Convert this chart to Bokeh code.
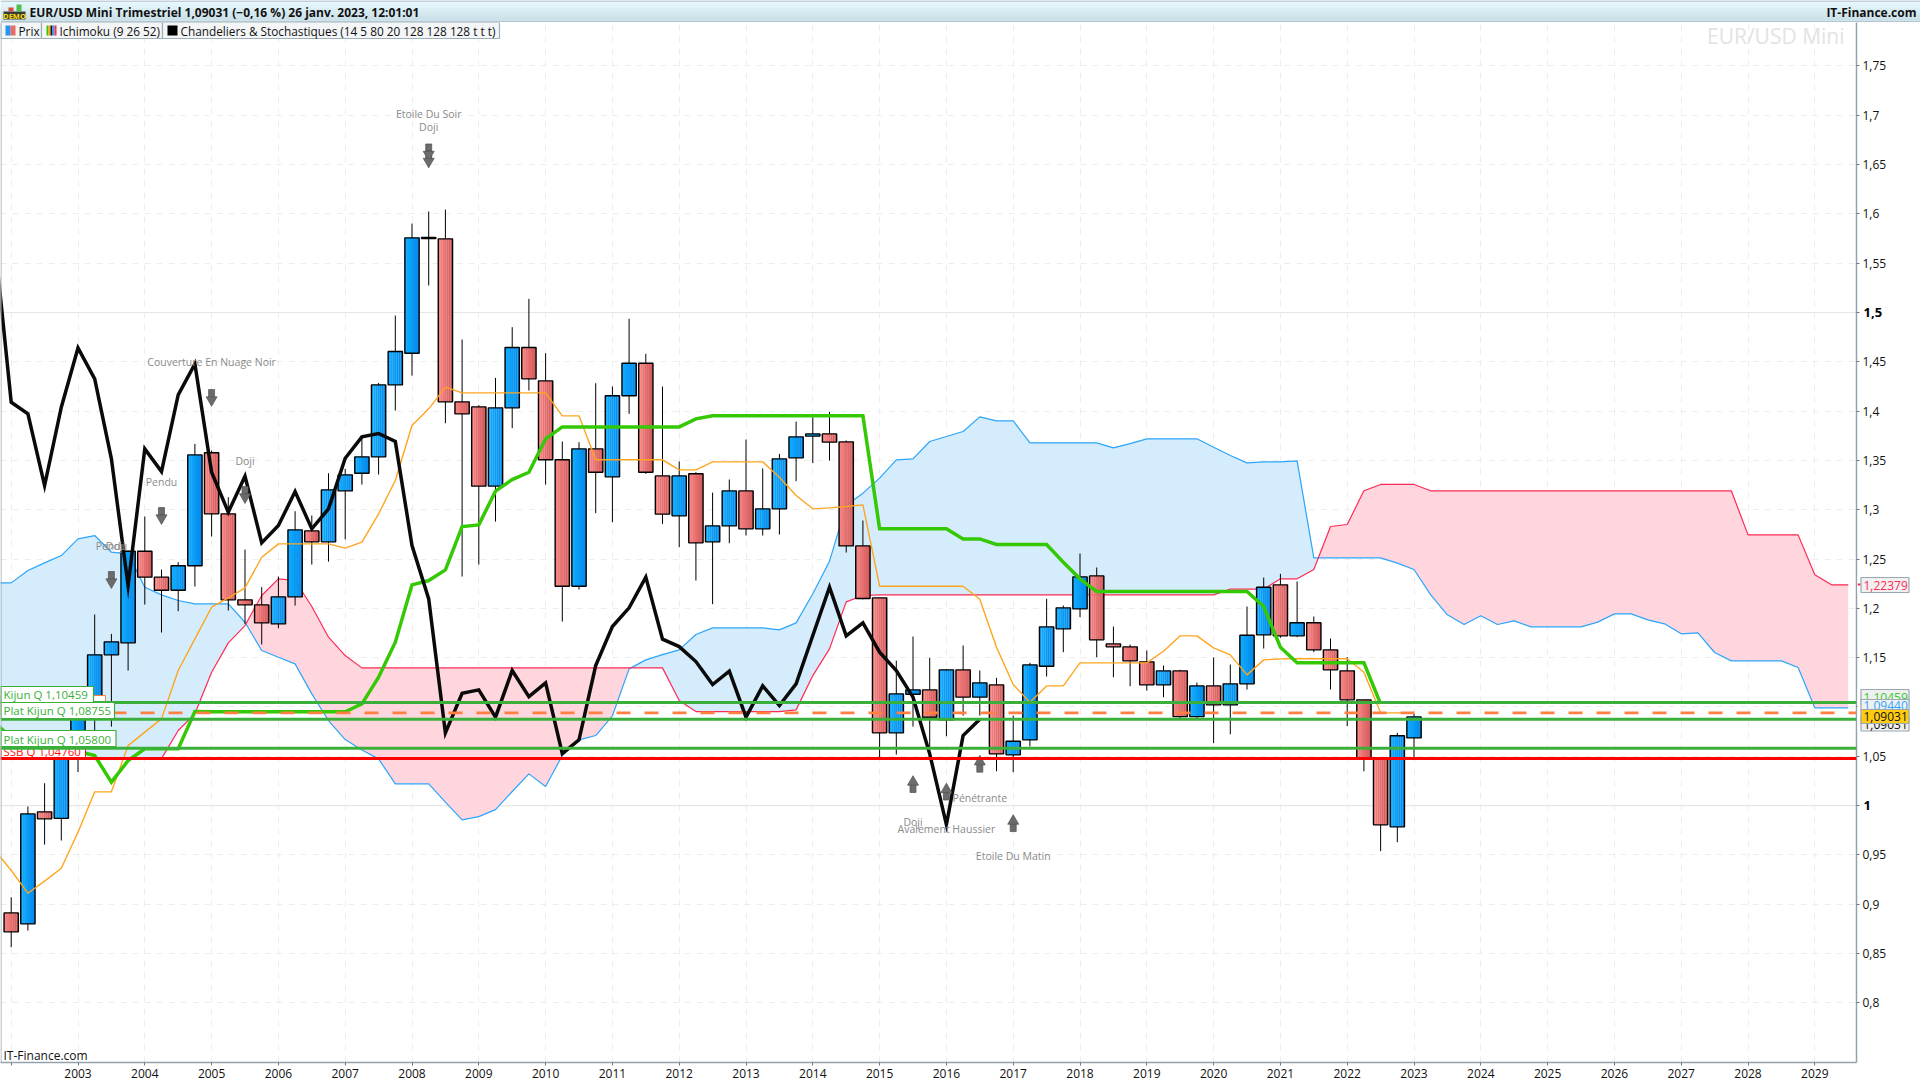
from bokeh.plotting import figure
from bokeh.embed import file_html
from bokeh.resources import INLINE
from bokeh.models import BoxAnnotation, Label, Span, Range1d, FixedTicker
from bokeh.core.properties import value
import numpy as np

# ---- data -----------------------------------------------------------------
opens = [.8911,.8800,.9936,.987,1.049,1.09,1.1528,1.165,1.2579,1.2316,1.2184,1.2431,1.3577,1.2958,1.2086,1.2035,1.1842,1.2116,1.2785,1.2674,1.3191,1.337,1.3536,1.4266,1.4587,1.5750,1.5747,1.4094,1.4043,1.3239,1.4033,1.4645,1.4307,1.3506,1.2224,1.3617,1.3333,1.4155,1.4486,1.3343,1.2938,1.3364,1.2674,1.2836,1.3191,1.2806,1.3009,1.3526,1.3746,1.3769,1.3688,1.2633,1.2106,1.0737,1.1129,1.1173,1.087,1.1376,1.1099,1.1224,1.0514,1.0666,1.1413,1.1792,1.1994,1.2329,1.1639,1.1609,1.1457,1.1224,1.1366,1.0902,1.1213,1.1021,1.1234,1.1731,1.2238,1.1721,1.1853,1.1579,1.1366,1.1072,1.0481,.9784,1.0686]
highs = [.9070,.9990,1.0226,1.052,1.10,1.1937,1.1741,1.2585,1.2931,1.2393,1.2468,1.3668,1.36,1.3127,1.2596,1.2214,1.2322,1.2985,1.2941,1.337,1.3414,1.3735,1.4286,1.4969,1.5902,1.6024,1.6044,1.4726,1.406,1.4337,1.4851,1.5138,1.4587,1.3692,1.3685,1.4283,1.4249,1.4936,1.4581,1.4249,1.3489,1.338,1.3174,1.3306,1.3712,1.3418,1.3566,1.3894,1.3938,1.3992,1.3702,1.2890,1.2106,1.147,1.1714,1.1497,1.1385,1.1623,1.1369,1.1295,1.0913,1.1447,1.2096,1.2028,1.2556,1.2414,1.1815,1.1633,1.1572,1.1420,1.1376,1.1247,1.1501,1.143,1.2018,1.2312,1.235,1.2272,1.1917,1.1694,1.1505,1.1072,1.0481,1.0737,1.0929]
lows = [.8563,.8732,.9604,.9645,1.034,1.076,1.08,1.1369,1.2038,1.1754,1.1971,1.2221,1.2728,1.1978,1.1842,1.1633,1.1798,1.2028,1.2444,1.2474,1.2698,1.3255,1.3357,1.4006,1.436,1.5274,1.3877,1.2322,1.2444,1.288,1.3827,1.4209,1.3255,1.1866,1.219,1.2965,1.2873,1.3972,1.3364,1.2856,1.262,1.2282,1.2042,1.2660,1.2738,1.2738,1.2748,1.3289,1.3472,1.3499,1.2566,1.2090,1.0490,1.0517,1.080,1.0575,1.0703,1.0912,1.0913,1.0348,1.0338,1.0598,1.1308,1.1555,1.1910,1.1504,1.1301,1.121,1.1166,1.1099,1.0889,1.0879,1.0632,1.0723,1.1176,1.1592,1.1701,1.1707,1.1555,1.1177,1.0805,1.0348,.9537,.9628,1.049]
closes = [.8719,.9915,.9865,1.049,1.09,1.1528,1.166,1.2579,1.2316,1.2184,1.2431,1.3556,1.2958,1.2086,1.2035,1.1852,1.2116,1.2796,1.2674,1.3201,1.3353,1.3536,1.4266,1.4604,1.5757,1.5760,1.4094,1.3972,1.3239,1.4033,1.4645,1.4327,1.3506,1.2224,1.3617,1.338,1.4155,1.4486,1.338,1.2955,1.3343,1.2664,1.2836,1.3191,1.2806,1.3009,1.3516,1.3739,1.3769,1.3685,1.2633,1.2099,1.0737,1.1132,1.1173,1.0895,1.1376,1.1099,1.1244,1.0524,1.0652,1.1426,1.1812,1.2005,1.2319,1.168,1.1609,1.1467,1.1224,1.1366,1.0902,1.1213,1.1021,1.1234,1.1727,1.2214,1.1721,1.1853,1.1579,1.1376,1.1072,1.0481,.9804,1.0707,1.0899]

black_line = [1.575,1.4090,1.3972,1.3245,1.4040,1.4641,1.4327,1.3516,1.2231,1.3617,1.3387,1.4165,1.4479,1.3380,1.2975,1.3340,1.2664,1.2840,1.3184,1.2806,1.3009,1.3522,1.3739,1.3773,1.3692,1.2637,1.2096,1.0737,1.1139,1.1173,1.0896,1.1369,1.1105,1.1244,1.0527,1.0666,1.1420,1.1815,1.2005,1.2316,1.1687,1.1612,1.1460,1.1227,1.1362,1.0896,1.1213,1.1014,1.1234,1.1724,1.2214,1.1721,1.1852,1.1555,1.1369,1.1099,1.0524,.9807,1.071,1.0875]
kijun = [1.084,1.0693,1.06,1.055,1.055,1.055,1.0507,1.0237,1.0456,1.0575,1.0575,1.0575,1.0953,1.0950,1.0950,1.0950,1.0950,1.0950,1.0950,1.0950,1.0950,1.0950,1.1031,1.1301,1.1656,1.2238,1.2282,1.2390,1.2829,1.2846,1.3188,1.3306,1.3380,1.3719,1.3840,1.3840,1.3840,1.3840,1.3840,1.3840,1.3840,1.3840,1.3921,1.3952,1.3952,1.3952,1.3952,1.3952,1.3952,1.3952,1.3952,1.3952,1.3952,1.2806,1.2806,1.2806,1.2806,1.2806,1.2704,1.2704,1.2647,1.2647,1.2647,1.2647,1.2468,1.2299,1.2170,1.2170,1.2170,1.2170,1.2170,1.2170,1.2170,1.2170,1.2170,1.2170,1.2018,1.1606,1.1447,1.1447,1.1447,1.1447,1.1447,1.1031]
tenkan = [.9550,.9341,.9111,.9233,.9364,.9729,1.0139,1.0139,1.0608,1.0744,1.0879,1.1369,1.1690,1.2011,1.2106,1.2207,1.2518,1.2654,1.2654,1.2654,1.2654,1.2610,1.2671,1.2958,1.3296,1.3854,1.4023,1.4243,1.4185,1.4185,1.4185,1.4185,1.4185,1.4185,1.3952,1.3952,1.3506,1.3506,1.3506,1.3506,1.3506,1.3404,1.3404,1.3485,1.3485,1.3485,1.3485,1.3330,1.3144,1.3009,1.3019,1.3032,1.3049,1.2224,1.2224,1.2224,1.2224,1.2224,1.2224,1.2092,1.1606,1.1227,1.1048,1.1213,1.1213,1.1447,1.1447,1.1447,1.1447,1.1447,1.1565,1.1721,1.1721,1.1599,1.1528,1.1325,1.1477,1.1487,1.1488,1.1488,1.1488,1.1488,1.1352,1.0940,1.0940,1.0940]
senkou_a = [1.2258,1.2258,1.2383,1.2461,1.2535,1.2704,1.2738,1.2569,1.2552,1.2214,1.2136,1.2079,1.2045,1.2045,1.2045,1.1859,1.1572,1.1504,1.1437,1.1132,1.0862,1.0669,1.0564,1.0473,1.0220,1.0220,1.0220,1.0034,.9855,.9888,.9959,1.0142,1.0321,1.0193,1.0507,1.0666,1.0710,1.0910,1.1386,1.1477,1.1531,1.1579,1.1734,1.1802,1.1802,1.1802,1.1802,1.1781,1.1852,1.2147,1.2478,1.3042,1.3168,1.3320,1.3506,1.3516,1.3692,1.3742,1.3793,1.3942,1.3901,1.3901,1.3678,1.3678,1.3678,1.3678,1.3678,1.3627,1.3671,1.3719,1.3719,1.3719,1.3719,1.3634,1.3550,1.3475,1.3485,1.3485,1.3496,1.2512,1.2512,1.2512,1.2512,1.2512,1.2458,1.2394,1.2137,1.1934,1.1836,1.1924,1.1836,1.1873,1.1812,1.1812,1.1812,1.1812,1.1860,1.1944,1.1944,1.1883,1.1843,1.1741,1.1751,1.1552,1.1467,1.1467,1.1467,1.1467,1.1400,1.0991,1.0991,1.0991]
senkou_b = [1.0476,1.0476,1.0476,1.0476,1.0476,1.0476,1.0476,1.0476,1.0476,1.0476,1.0476,1.0761,1.0930,1.1352,1.1650,1.1825,1.2130,1.2299,1.2282,1.2018,1.1707,1.1521,1.1396,1.1396,1.1396,1.1396,1.1396,1.1396,1.1396,1.1396,1.1396,1.1396,1.1396,1.1396,1.1396,1.1396,1.1396,1.1396,1.1396,1.1396,1.1396,1.1065,1.0953,1.0953,1.0953,1.0953,1.0953,1.0953,1.0970,1.1318,1.1589,1.2065,1.2130,1.2136,1.2136,1.2136,1.2136,1.2136,1.2136,1.2136,1.2136,1.2136,1.2136,1.2136,1.2136,1.2136,1.2136,1.2136,1.2136,1.2136,1.2136,1.2136,1.2136,1.2136,1.2194,1.2194,1.2194,1.2299,1.2299,1.2394,1.2830,1.2850,1.3192,1.3256,1.3256,1.3256,1.3192,1.3192,1.3192,1.3192,1.3192,1.3192,1.3192,1.3192,1.3192,1.3192,1.3192,1.3192,1.3192,1.3192,1.3192,1.3192,1.3192,1.3192,1.3192,1.2745,1.2745,1.2745,1.2745,1.2340,1.2238,1.2238]

levels = [1.10459, 1.08755, 1.05800]
level_ssb = 1.04760
level_tenkan = 1.0940

year_ticks = list(range(2002, 2030))
year_labels = {y: str(y) for y in year_ticks}
year_labels[2002] = ""
price_ticks = [0.8,0.85,0.9,0.95,1,1.05,1.1,1.15,1.2,1.25,1.3,1.35,1.4,1.45,1.5,1.55,1.6,1.65,1.7,1.75]
price_labels = ["0,8","0,85","0,9","0,95","","1,05","1,1","1,15","1,2","1,25","1,3","1,35","1,4","1,45","","1,55","1,6","1,65","1,7","1,75"]

note_text = ["Etoile Du Soir","Doji","Couverture En Nuage Noir","Pendu","Doji","Pendu","Doji","Doji","Avalement Haussier","Pénétrante","Etoile Du Matin"]
note_x = [2008.25,2008.25,2005.0,2004.25,2005.5,2003.5,2003.56,2015.5,2016.0,2016.5,2017.0]
note_y = [1.7018,1.6886,1.4493,1.3286,1.3499,1.2637,1.2637,.9838,.9767,1.0081,.9493]
arrow_down_x = [2008.25,2008.25,2005.0,2004.25,2005.5,2003.5]
arrow_down_y = [1.6638,1.6567,1.4148,1.2951,1.3164,1.2302]
arrow_up_x = [2015.5,2016.0,2016.5,2017.0]
arrow_up_y = [1.0203,1.0127,1.0409,.9807]

# ---- main figure ------------------------------------------------------------
FONT = "Open Sans"
W, H = 1920, 1080
p = figure(width=W, height=H, output_backend="svg", toolbar_location=None,
           x_range=Range1d(2001.8398, 2029.624), y_range=Range1d(0.7394, 1.7941),
           y_axis_location="right", min_border_left=0, min_border_right=64,
           min_border_top=22, min_border_bottom=18, background_fill_color="white",
           border_fill_color="white", outline_line_color=None)

p.xaxis.ticker = FixedTicker(ticks=year_ticks)
p.xaxis.major_label_overrides = year_labels
p.yaxis.ticker = FixedTicker(ticks=price_ticks)
p.yaxis.major_label_overrides = dict(zip(price_ticks, price_labels))
for ax in (p.xaxis[0], p.yaxis[0]):
    ax.axis_line_color = "#93A3AD"
    ax.axis_line_width = 1.5
    ax.major_tick_line_color = "#6E7A82"
    ax.major_tick_in = 0
    ax.major_tick_out = 3
    ax.minor_tick_line_color = None
    ax.major_label_text_font = FONT
    ax.major_label_text_font_size = "12px"
    ax.major_label_text_color = "#111111"
    ax.major_label_standoff = 3

p.xgrid.ticker = FixedTicker(ticks=year_ticks)
p.ygrid.ticker = FixedTicker(ticks=price_ticks)
for g in (p.xgrid[0], p.ygrid[0]):
    g.grid_line_color = "#EDEDED"
    g.grid_line_dash = "6 6"
    g.grid_line_width = 1
for lv in (1, 1.5):
    p.add_layout(Span(location=lv, dimension="width", line_color="#E6E6E6", line_width=1.2, level="underlay"))

# ---- Ichimoku cloud --------------------------------------------------------
def qx(first, n):
    return 2002 + (first + np.arange(n)) * 0.25

sa = np.array(senkou_a); sb = np.array(senkou_b)
xc = qx(-1, len(sa))
X, A, B = [], [], []
for i in range(len(xc)):
    X.append(xc[i]); A.append(sa[i]); B.append(sb[i])
    if i + 1 < len(xc):
        d0, d1 = sa[i] - sb[i], sa[i + 1] - sb[i + 1]
        if d0 * d1 < 0:
            t = d0 / (d0 - d1)
            X.append(xc[i] + t * 0.25)
            v = sa[i] + t * (sa[i + 1] - sa[i])
            A.append(v); B.append(v)
X, A, B = map(np.array, (X, A, B))
low = np.minimum(A, B)
p.varea(x=X, y1=low, y2=A, fill_color="#D4ECFB")
p.varea(x=X, y1=low, y2=B, fill_color="#FFD5DE")
p.line(xc, sa, line_color="#2BA5FB", line_width=1.2)
p.line(xc, sb, line_color="#FF2A55", line_width=1.2)

# ---- candles ----------------------------------------------------------------
o, h, l, c = map(np.array, (opens, highs, lows, closes))
xq = qx(0, len(o))
up = c >= o
p.segment(xq, h, xq, l, line_color="black", line_width=1)
top = np.maximum(o, c); bot = np.minimum(o, c)
BW = 0.214
N = 7
def mix(a, b, t):
    return "#%02X%02X%02X" % tuple(int(round(a[k] + (b[k] - a[k]) * t)) for k in range(3))
for k in range(N):
    t = k / (N - 1)
    off = (k + 0.5) / N * BW - BW / 2
    p.vbar(x=xq[up] + off, width=BW / N + 0.002, top=top[up], bottom=bot[up], line_color=None,
           fill_color=mix((16, 172, 255), (4, 138, 235), t))
    p.vbar(x=xq[~up] + off, width=BW / N + 0.002, top=top[~up], bottom=bot[~up], line_color=None,
           fill_color=mix((247, 130, 130), (212, 92, 92), t))
p.vbar(x=xq, width=BW, top=top, bottom=bot, fill_color=None, line_color="black", line_width=1.4)

# ---- indicator lines ---------------------------------------------------------
p.line(qx(-1, len(tenkan)), tenkan, line_color="#FFA51F", line_width=1.4)
p.line(qx(-1, len(kijun)), kijun, line_color="#35C805", line_width=3.5, line_join="miter")
p.line(qx(-1, len(black_line)), black_line, line_color="#0A0A0A", line_width=3.5, line_join="miter")

# ---- pattern notes -----------------------------------------------------------
PX = 1 / 986
p.text(note_x, note_y, text=note_text, text_font=value(FONT), text_font_size="10.5px",
       text_color="#8A8A8A", text_align="center", text_baseline="middle")
ax_d = np.array(arrow_down_x); ay_d = np.array(arrow_down_y)
ax_u = np.array(arrow_up_x); ay_u = np.array(arrow_up_y)
AR = dict(fill_color="#6C6C6C", line_color="#505050", line_width=0.7)
p.rect(ax_d, ay_d + 2.5 * PX, width=6, height=9, width_units="screen", height_units="screen", **AR)
p.scatter(ax_d, ay_d - 3.5 * PX, marker="inverted_triangle", size=11, **AR)
p.rect(ax_u, ay_u - 2.5 * PX, width=6, height=9, width_units="screen", height_units="screen", **AR)
p.scatter(ax_u, ay_u + 3.5 * PX, marker="triangle", size=11, **AR)

# ---- overlay panels: annotations are clipped to a frame, so the strips outside
# the main frame get small figures of their own, placed at page pixels --------
def panel(x0, y0, w, h):
    f = figure(width=w, height=h, output_backend="svg", toolbar_location=None,
               x_range=Range1d(0, w), y_range=Range1d(0, h), x_axis_type=None, y_axis_type=None,
               min_border=0, background_fill_color="white", border_fill_color="white",
               outline_line_color=None,
               styles={"position": "absolute", "left": f"{x0}px", "top": f"{y0}px", "z-index": "10"})
    f.grid.visible = False
    return f

def box(x0, y0, x1, y1, fill, line=None, lw=1, fig=None, ox=0, oy=0):
    (fig or p).add_layout(BoxAnnotation(left=x0 - ox, right=x1 - ox, top=y0 - oy, bottom=y1 - oy,
                               left_units="canvas", right_units="canvas",
                               top_units="canvas", bottom_units="canvas", fill_color=fill, fill_alpha=1,
                               line_color=line, line_alpha=1 if line else 0, line_width=lw, level="annotation"))

def lab(text, x, y, color="#111111", size=11.5, style="normal", align="left", fig=None, ox=0, oy=0):
    (fig or p).add_layout(Label(x=x - ox, y=y - oy, x_units="canvas", y_units="canvas", text=text, text_color=color,
                       text_font=FONT, text_font_size=f"{size}px", text_font_style=style,
                       text_align=align, text_baseline="middle", level="annotation"))

GREEN = "#3AB03A"
# labels hidden behind the others
box(0.5, 695, 105, 711, "white", "#FF8040")
box(0.5, 746, 85, 758, "white", "#FF1010")
lab("SSB Q 1,04760", 3, 750.7, "#FF1010", 11.5)

def hline(v, color, lw=3, dash=None):
    kw = dict(line_dash=dash) if dash else {}
    p.add_layout(Span(location=v, dimension="width", line_color=color, line_width=lw, level="annotation", **kw))

hline(level_tenkan, "#FF8040", 2.6, "14 14")
hline(level_ssb, "#FF0000", 3)
for lv in levels:
    hline(lv, GREEN, 3)

# left level labels
box(0.5, 686, 93, 702, "white", GREEN, 1.2)
lab("Kijun Q 1,10459", 3, 694, GREEN)
box(0.5, 702, 114, 718, "white", GREEN, 1.2)
lab("Plat Kijun Q 1,08755", 3, 710, GREEN)
box(0.5, 730, 115.5, 746, "white", GREEN, 1.2)
lab("Plat Kijun Q 1,05800", 3, 739, GREEN)
lab("IT-Finance.com", 3, 1055, "#111111", 12)
box(0, 22, 1, 1062, "#9AAAB5")

# watermark
lab("EUR/USD Mini", 1844, 35, "#E3E3E3", 21, align="right")

# legend strip
box(0.5, 22, 41, 38, "#F3F5F6", "#9DB0BA", 1.2)
box(41, 22, 162, 38, "#F3F5F6", "#9DB0BA", 1.2)
box(162, 22, 499, 38, "#F3F5F6", "#9DB0BA", 1.2)
box(5, 25, 10, 35, "#2196F3"); box(10, 25, 15, 35, "#E86A6A")
for j, col in enumerate(["#35C805", "#FFA51F", "#111111", "#2BA5FB", "#FF2A55"]):
    box(46 + j * 2, 25, 48 + j * 2, 35, col)
box(167, 25, 177, 35, "#000000")
lab("Prix", 18, 30, "#111111", 11.8)
lab("Ichimoku (9 26 52)", 59, 30, "#111111", 11.8)
lab("Chandeliers & Stochastiques (14 5 80 20 128 128 128 t t t)", 180, 30, "#111111", 11.8)

# header panel
head = panel(0, 0, W, 22)
hk = dict(fig=head)
steps = 11
for k in range(steps):
    t = k / (steps - 1)
    box(0, 1 + k * 1.9, W, 1 + (k + 1) * 1.9 + 0.3, mix((229, 247, 252), (200, 221, 230), t), **hk)
box(0, 0, W, 1, "#8EA5B1", **hk)
box(0, 21, W, 22, "#9AAFBA", **hk)
box(3, 11, 25, 19, "#3A3A3A", **hk)
box(8, 7, 13, 11, "#D84A3A", **hk)
box(16, 4, 21, 11, "#4FC04F", **hk)
lab("DEMO", 14, 15.5, "#FFE000", 7.5, "bold", "center", **hk)
lab("EUR/USD Mini Trimestriel 1,09031 (−0,16 %) 26 janv. 2023, 12:01:01", 29, 12, "#111111", 12, "bold", **hk)
lab("IT-Finance.com", 1916, 12, "#111111", 12, "bold", "right", **hk)

# bottom border
foot = panel(0, 1078, W, 2)
box(0, 0, W, 2, "#93A3AD", fig=foot)

# right price labels
r1 = panel(1857, 575, 54, 19)
rk = dict(fig=r1, ox=1857, oy=575)
box(1857, 583, 1860, 585, "#FF2A55", **rk)
box(1860.5, 577, 1908.5, 592, "#F0F0F0", "#9AA8B2", 1.2, **rk)
lab("1,22379", 1863, 584.5, "#FF2A55", 12, **rk)

r2 = panel(1857, 688, 54, 44)
rk = dict(fig=r2, ox=1857, oy=688)
box(1860.5, 689, 1908.5, 704, "#F0F0F0", "#9AA8B2", 1.2, **rk)
lab("1,10459", 1863, 697, "#33CC33", 12, **rk)
box(1860.5, 699, 1908.5, 710, "#F0F0F0", "#9AA8B2", 1.2, **rk)
lab("1,09440", 1863, 705, "#2BA5FB", 12, **rk)
box(1860.5, 715, 1908.5, 730.5, "#F0F0F0", "#9AA8B2", 1.2, **rk)
lab("1,09031", 1863, 724, "#111111", 12, **rk)
box(1860.5, 709, 1908.5, 723, "#FFCC11", "#9AA8B2", 1.2, **rk)
lab("1,09031", 1863, 716, "#111111", 12, **rk)

# the round prices 1,5 and 1 are set darker and larger in the reference
m1 = panel(1861, 304, 24, 16)
lab("1,5", 1863, 312, "#000000", 13, "bold", fig=m1, ox=1861, oy=304)
m2 = panel(1861, 797, 24, 16)
lab("1", 1863, 805, "#000000", 13, "bold", fig=m2, ox=1861, oy=797)

open("out.html", "w").write(file_html([p, head, foot, r1, r2, m1, m2], INLINE))
